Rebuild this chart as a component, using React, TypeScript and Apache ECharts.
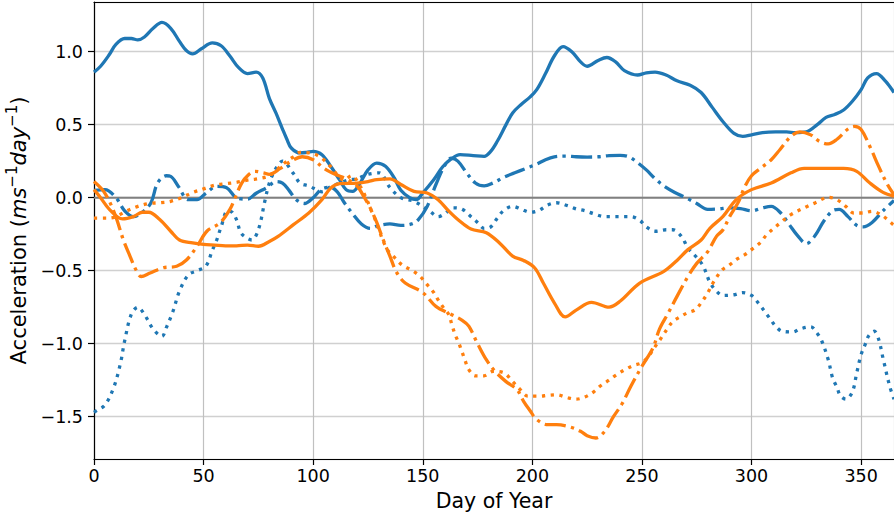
import React, { useEffect, useRef } from "react";
import * as echarts from "echarts";

// ---- Data (day of year, acceleration) ----
const blueSolid: [number, number][] = [
  [0, 0.86], [3, 0.9], [7, 0.98], [10, 1.05], [14, 1.09], [17, 1.09], [20, 1.08], [23, 1.1], [27, 1.16], [31, 1.2],
  [35, 1.16], [39, 1.07], [42, 1.01], [45, 0.985], [49, 1.02], [54, 1.06], [58, 1.04], [62, 0.97], [66, 0.89], [70, 0.85],
  [74, 0.86], [77, 0.82], [80, 0.68], [83, 0.58], [86, 0.47], [88, 0.4], [90, 0.34], [94, 0.306], [97, 0.31], [100, 0.317],
  [104, 0.294], [108, 0.215], [112, 0.123], [115, 0.055], [118, 0.043], [121, 0.09], [125, 0.19], [129, 0.237], [133, 0.215],
  [137, 0.135], [140, 0.05], [144, 0.0], [147, -0.014], [150, 0.032], [155, 0.123], [159, 0.21], [163, 0.265], [167, 0.294],
  [173, 0.288], [178, 0.283], [181, 0.317], [184, 0.386], [188, 0.5], [191, 0.58], [195, 0.64], [199, 0.69], [202, 0.74],
  [206, 0.85], [210, 0.97], [214, 1.035], [218, 1.0], [222, 0.93], [225, 0.9], [230, 0.94], [234, 0.96], [238, 0.93],
  [242, 0.87], [248, 0.84], [252, 0.855], [256, 0.86], [261, 0.84], [266, 0.8], [272, 0.77], [277, 0.72], [282, 0.62],
  [287, 0.52], [292, 0.44], [296, 0.42], [300, 0.43], [305, 0.445], [311, 0.45], [316, 0.45], [320, 0.445], [325, 0.45],
  [330, 0.5], [334, 0.55], [338, 0.57], [342, 0.6], [346, 0.66], [350, 0.74], [353, 0.82], [357, 0.85], [361, 0.8], [365, 0.72],
];

const blueDashDot: [number, number][] = [
  [0, 0.05], [5, 0.055], [10, 0.0], [14, -0.09], [18, -0.13], [22, -0.1], [26, -0.035], [29, 0.1], [33, 0.15], [35, 0.146],
  [38.5, 0.077], [43, -0.014], [47, -0.014], [51, 0.03], [56, 0.077], [60.5, 0.068], [65, 0.0], [70, -0.01], [74, 0.03],
  [79, 0.07], [83, 0.11], [86, 0.1], [89, 0.05], [92, -0.01], [96, -0.04], [100, 0.0], [104, 0.06], [108, 0.07], [111, 0.04],
  [114, -0.03], [118, -0.11], [122, -0.18], [126, -0.21], [130, -0.19], [135, -0.18], [140, -0.19], [145, -0.18], [148, -0.15],
  [152, -0.06], [156, 0.09], [160, 0.22], [163, 0.27], [166, 0.25], [170, 0.17], [174, 0.1], [178, 0.08], [182, 0.1],
  [187, 0.14], [192, 0.17], [197, 0.2], [202, 0.23], [206, 0.26], [210, 0.28], [215, 0.285], [220, 0.28], [225, 0.278],
  [230, 0.28], [235, 0.288], [240, 0.29], [244, 0.28], [248, 0.24], [252, 0.19], [256, 0.13], [260, 0.08], [265, 0.035],
  [270, 0.0], [275, -0.04], [280, -0.08], [285, -0.077], [290, -0.07], [295, -0.075], [300, -0.09], [305, -0.07],
  [309, -0.06], [313, -0.1], [317, -0.18], [321, -0.26], [325, -0.315], [329, -0.26], [333, -0.16], [337, -0.09],
  [340, -0.08], [344, -0.13], [348, -0.19], [351, -0.2], [355, -0.17], [360, -0.09], [365, -0.02],
];

const blueDotted: [number, number][] = [
  [0, -1.47], [1, -1.46], [5, -1.42], [9, -1.3], [12, -1.14], [14, -0.98], [17, -0.8], [20, -0.75], [23, -0.8], [27, -0.9],
  [31, -0.95], [33, -0.89], [36, -0.78], [39, -0.64], [43, -0.53], [47, -0.5], [51, -0.47], [54, -0.36], [56, -0.29],
  [58, -0.2], [61, -0.09], [63, -0.1], [65, -0.15], [67, -0.24], [70, -0.28], [72, -0.29], [75, -0.22], [78, -0.02],
  [80, 0.1], [83, 0.2], [86, 0.25], [91, 0.165], [94, 0.1], [98, 0.08], [102, 0.05], [104, 0.04], [108, 0.075], [112, 0.1],
  [116, 0.12], [120, 0.13], [125, 0.16], [130, 0.17], [135, 0.07], [140, 0.0], [146, -0.025], [153, -0.09], [157, -0.13],
  [160, -0.11], [164, -0.07], [168, -0.08], [172, -0.13], [175, -0.17], [178, -0.21], [181, -0.2], [184, -0.14],
  [187, -0.087], [191, -0.06], [195, -0.08], [199, -0.1], [203, -0.087], [207, -0.05], [211, -0.035], [216, -0.055],
  [220, -0.077], [224, -0.09], [228, -0.11], [233, -0.13], [237, -0.13], [241, -0.13], [245, -0.13], [249, -0.155],
  [252, -0.2], [256, -0.23], [261, -0.22], [264, -0.22], [268, -0.265], [271, -0.345], [275, -0.41], [278, -0.47],
  [281, -0.58], [284, -0.64], [287, -0.67], [292, -0.665], [296, -0.65], [300, -0.67], [303, -0.72], [308, -0.82],
  [311, -0.88], [314, -0.915], [319, -0.92], [322, -0.9], [327, -0.885], [330, -0.93], [332, -0.98], [335, -1.11],
  [337, -1.235], [339, -1.3], [340.5, -1.356], [343, -1.38], [346, -1.33], [348, -1.2], [350, -1.075], [352, -1.0],
  [353.5, -0.945], [356, -0.915], [358, -0.97], [360, -1.1], [363, -1.29], [365, -1.38],
];

const orangeSolid: [number, number][] = [
  [0, 0.055], [3, 0.0], [7, -0.08], [13, -0.146], [18, -0.13], [22, -0.1], [25, -0.1], [30, -0.15], [35, -0.23], [39, -0.29],
  [45, -0.31], [50, -0.32], [55, -0.325], [60, -0.33], [65, -0.33], [70, -0.325], [75, -0.333], [80, -0.3], [84, -0.265],
  [91, -0.185], [98, -0.105], [104, -0.014], [108, 0.066], [112, 0.096], [120, 0.1], [125, 0.11], [129, 0.123], [135, 0.128],
  [140, 0.09], [146, 0.043], [152, 0.032], [157, -0.014], [162, -0.094], [166, -0.15], [172, -0.215], [179, -0.24],
  [185, -0.31], [191, -0.4], [196, -0.43], [201, -0.48], [205, -0.585], [210, -0.72], [215, -0.817], [220, -0.77],
  [227, -0.717], [235, -0.75], [240, -0.71], [249, -0.585], [260, -0.505], [266, -0.43], [271, -0.356], [277, -0.29],
  [281, -0.21], [287, -0.128], [293, -0.014], [300, 0.055], [309, 0.1], [318, 0.17], [324, 0.2], [333, 0.2], [342, 0.2],
  [348, 0.18], [354, 0.1], [360, 0.036], [365, 0.01],
];

const orangeDashDot: [number, number][] = [
  [0, 0.11], [5, 0.03], [9.6, -0.116], [13.4, -0.29], [16.4, -0.4], [19.5, -0.505], [21.5, -0.54], [25.6, -0.516],
  [31.6, -0.48], [37.7, -0.47], [42.3, -0.425], [47, -0.333], [51.5, -0.23], [57.5, -0.173], [62, -0.08], [64.4, 0.0],
  [67.4, 0.1], [70.5, 0.157], [73.5, 0.18], [77.3, 0.17], [80, 0.16], [85, 0.2], [90, 0.25], [95, 0.28], [100, 0.26],
  [105, 0.2], [110, 0.16], [115, 0.13], [120, 0.08], [123, 0.01], [126, -0.07], [129, -0.17], [132, -0.29], [135, -0.4],
  [138, -0.51], [142, -0.585], [150, -0.65], [156, -0.745], [163, -0.8], [168, -0.84], [171, -0.88], [175, -1.0],
  [179, -1.11], [183, -1.19], [188, -1.26], [193, -1.315], [196, -1.395], [199, -1.46], [202, -1.52], [207, -1.555],
  [211, -1.555], [217, -1.57], [222, -1.6], [225, -1.63], [229, -1.646], [233, -1.6], [237, -1.5], [241, -1.41],
  [245, -1.29], [250, -1.155], [255, -1.03], [258, -0.9], [262, -0.79], [266, -0.676], [271, -0.54], [275, -0.45],
  [280, -0.37], [284, -0.265], [287, -0.22], [290, -0.13], [294, -0.03], [297, 0.077], [300, 0.15], [304, 0.2],
  [309, 0.26], [313, 0.33], [318, 0.42], [322, 0.45], [327, 0.43], [331, 0.385], [335, 0.368], [339, 0.4], [344, 0.47],
  [347, 0.488], [350, 0.466], [354, 0.35], [358, 0.214], [362, 0.09], [365, 0.02],
];

const orangeDotted: [number, number][] = [
  [0, -0.14], [6, -0.14], [10, -0.13], [15, -0.09], [20, -0.06], [25, -0.04], [30, -0.035], [35, -0.025], [40, 0.0],
  [45, 0.035], [50, 0.06], [55, 0.085], [60, 0.095], [65, 0.105], [70, 0.12], [75, 0.13], [80, 0.15], [84, 0.2],
  [88, 0.25], [91, 0.28], [94, 0.31], [98.6, 0.306], [103, 0.28], [107.8, 0.215], [110.8, 0.16], [114, 0.12],
  [117.5, 0.15], [121.5, 0.077], [124.5, -0.014], [126, -0.07], [128.3, -0.15], [130, -0.22], [132, -0.3], [134, -0.36],
  [136.5, -0.4], [140.5, -0.46], [145.8, -0.505], [148.8, -0.54], [152, -0.596], [155, -0.65], [157, -0.7],
  [159.5, -0.755], [161.8, -0.8], [163.3, -0.87], [164.8, -0.94], [166.4, -0.995], [168, -1.06], [169.4, -1.12],
  [171, -1.178], [174, -1.22], [178, -1.22], [182, -1.19], [187, -1.2], [191, -1.26], [194.5, -1.315], [198, -1.36],
  [203, -1.36], [207, -1.354], [211, -1.35], [216, -1.37], [220, -1.38], [224, -1.365], [228, -1.33], [231, -1.29],
  [235, -1.25], [238, -1.217], [242, -1.18], [246, -1.15], [250, -1.13], [253, -1.087], [256, -1.02], [258.4, -0.97],
  [261.5, -0.9], [264, -0.85], [267, -0.82], [270.6, -0.79], [274.4, -0.767], [277.5, -0.71], [280, -0.653],
  [283, -0.57], [286.6, -0.495], [290, -0.46], [293.5, -0.42], [297, -0.39], [300, -0.356], [304, -0.308], [307, -0.253],
  [313, -0.174], [318, -0.116], [325.4, -0.06], [329, -0.036], [335, 0.002], [339, -0.014], [343, -0.06], [346.7, -0.105],
  [350.5, -0.105], [355, -0.094], [359, -0.116], [362, -0.15], [365, -0.19],
];

const xTickValues = [0, 50, 100, 150, 200, 250, 300, 350];

const BLUE = "#1f77b4";
const ORANGE = "#ff7f0e";
const LW = 3.3;
const DASH_DOT = [6.4 * LW, 1.6 * LW, 1 * LW, 1.6 * LW];
const DOTTED = [1 * LW, 1.65 * LW];
const FONT = "DejaVu Sans";

function lineSeries(data: [number, number][], color: string, type: any) {
  return {
    type: "line",
    data,
    showSymbol: false,
    symbol: "none",
    smooth: 0.35,
    lineStyle: { color, width: LW, type, cap: "butt", join: "round" },
    z: 3,
  };
}

export default function App() {
  const ref = useRef<HTMLDivElement>(null);
  useEffect(() => {
    const chart = echarts.init(ref.current!, null, { renderer: "svg" });
    chart.setOption({
      animation: false,
      backgroundColor: "#ffffff",
      textStyle: { fontFamily: FONT },
      grid: { left: 94, right: 0, top: 2, bottom: 55, containLabel: false, outerBoundsMode: "none" },
      xAxis: [
        {
          type: "value",
          min: 0,
          max: 365,
          interval: 50,
          axisLine: { show: true, onZero: false, lineStyle: { color: "#000", width: 1.2 } },
          axisTick: { show: true, length: 6, lineStyle: { color: "#000", width: 1.2 } },
          axisLabel: {
            color: "#000",
            fontSize: 17.5,
            fontFamily: FONT,
            margin: 8,
            showMaxLabel: false,
            formatter: (v: number) => (xTickValues.indexOf(v) >= 0 ? String(v) : ""),
          },
          splitLine: { show: true, lineStyle: { color: "#c0c0c0", width: 1.2 } },
          name: "Day of Year",
          nameLocation: "middle",
          nameGap: 31,
          nameTextStyle: { color: "#000", fontSize: 20.5, fontFamily: FONT },
        },
        {
          type: "value",
          position: "top",
          min: 0,
          max: 365,
          axisLine: { show: true, onZero: false, lineStyle: { color: "#000", width: 1.2 } },
          axisTick: { show: false },
          axisLabel: { show: false },
          splitLine: { show: false },
        },
      ],
      yAxis: {
        type: "value",
        min: -1.79,
        max: 1.34,
        splitNumber: 5,
        axisLine: { show: true, onZero: false, lineStyle: { color: "#000", width: 1.2 } },
        axisTick: { show: true, length: 6, lineStyle: { color: "#000", width: 1.2 } },
        axisLabel: {
          color: "#000",
          fontSize: 17.5,
          fontFamily: FONT,
          margin: 11,
          showMinLabel: false,
          showMaxLabel: false,
          formatter: (v: number) => {
            const s = v.toFixed(1);
            return s.replace("-", "\u2212");
          },
        },
        splitLine: { show: true, lineStyle: { color: "#d0d0d0", width: 1.4 } },
        name: "{n|Acceleration (}{i|ms}{s|\u22121}{i|day}{s|\u22121}{n|)}",
        nameLocation: "middle",
        nameGap: 54,
        nameTextStyle: {
          color: "#000",
          fontFamily: FONT,
          fontSize: 21,
          rich: {
            n: { fontSize: 21, fontFamily: FONT, color: "#000", lineHeight: 25, verticalAlign: "bottom" },
            i: { fontSize: 21, fontFamily: FONT, fontStyle: "italic", color: "#000", lineHeight: 25, verticalAlign: "bottom" },
            s: { fontSize: 15, fontFamily: FONT, color: "#000", lineHeight: 25, verticalAlign: "top" },
          },
        },
      },
      series: [
        {
          type: "line",
          data: [[0, 0], [365, 0]],
          showSymbol: false,
          symbol: "none",
          lineStyle: { color: "#808080", width: 2 },
          z: 2,
          silent: true,
        },
        lineSeries(blueSolid, BLUE, "solid"),
        lineSeries(blueDashDot, BLUE, DASH_DOT),
        lineSeries(blueDotted, BLUE, DOTTED),
        lineSeries(orangeSolid, ORANGE, "solid"),
        lineSeries(orangeDashDot, ORANGE, DASH_DOT),
        lineSeries(orangeDotted, ORANGE, DOTTED),
      ],
    });
    return () => chart.dispose();
  }, []);
  return (
    <div
      ref={ref}
      style={{ position: "fixed", left: 0, top: 0, width: 894, height: 514, background: "#fff" }}
    />
  );
}
